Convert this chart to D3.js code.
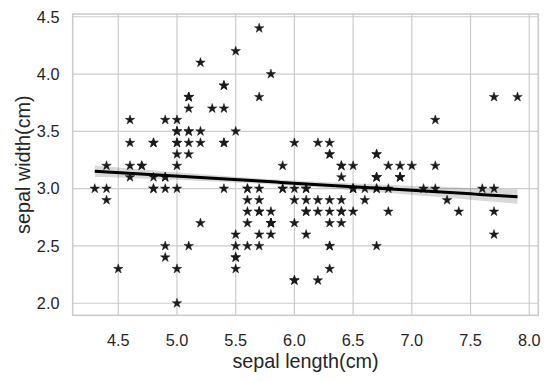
<!DOCTYPE html>
<html><head><meta charset="utf-8">
<script src="https://cdn.jsdelivr.net/npm/d3@7"></script>
<style>body{margin:0;background:#fff}svg{display:block}text{font-family:"Liberation Sans",Arial,sans-serif;fill:#262626}</style>
</head><body><svg id="c" width="551" height="382"></svg>
<script>
const sepalLength = [5.1,4.9,4.7,4.6,5.0,5.4,4.6,5.0,4.4,4.9,5.4,4.8,4.8,4.3,5.8,5.7,5.4,5.1,5.7,5.1,5.4,5.1,4.6,5.1,4.8,5.0,5.0,5.2,5.2,4.7,4.8,5.4,5.2,5.5,4.9,5.0,5.5,4.9,4.4,5.1,5.0,4.5,4.4,5.0,5.1,4.8,5.1,4.6,5.3,5.0,
7.0,6.4,6.9,5.5,6.5,5.7,6.3,4.9,6.6,5.2,5.0,5.9,6.0,6.1,5.6,6.7,5.6,5.8,6.2,5.6,5.9,6.1,6.3,6.1,6.4,6.6,6.8,6.7,6.0,5.7,5.5,5.5,5.8,6.0,5.4,6.0,6.7,6.3,5.6,5.5,5.5,6.1,5.8,5.0,5.6,5.7,5.7,6.2,5.1,5.7,
6.3,5.8,7.1,6.3,6.5,7.6,4.9,7.3,6.7,7.2,6.5,6.4,6.8,5.7,5.8,6.4,6.5,7.7,7.7,6.0,6.9,5.6,7.7,6.3,6.7,7.2,6.2,6.1,6.4,7.2,7.4,7.9,6.4,6.3,6.1,7.7,6.3,6.4,6.0,6.9,6.7,6.9,5.8,6.8,6.7,6.7,6.3,6.5,6.2,5.9];
const sepalWidth = [3.5,3.0,3.2,3.1,3.6,3.9,3.4,3.4,2.9,3.1,3.7,3.4,3.0,3.0,4.0,4.4,3.9,3.5,3.8,3.8,3.4,3.7,3.6,3.3,3.4,3.0,3.4,3.5,3.4,3.2,3.1,3.4,4.1,4.2,3.1,3.2,3.5,3.6,3.0,3.4,3.5,2.3,3.2,3.5,3.8,3.0,3.8,3.2,3.7,3.3,
3.2,3.2,3.1,2.3,2.8,2.8,3.3,2.4,2.9,2.7,2.0,3.0,2.2,2.9,2.9,3.1,3.0,2.7,2.2,2.5,3.2,2.8,2.5,2.8,2.9,3.0,2.8,3.0,2.9,2.6,2.4,2.4,2.7,2.7,3.0,3.4,3.1,2.3,3.0,2.5,2.6,3.0,2.6,2.3,2.7,3.0,2.9,2.9,2.5,2.8,
3.3,2.7,3.0,2.9,3.0,3.0,2.5,2.9,2.5,3.6,3.2,2.7,3.0,2.5,2.8,3.2,3.0,3.8,2.6,2.2,3.2,2.8,2.8,2.7,3.3,3.2,2.8,3.0,2.8,3.0,2.8,3.8,2.8,2.8,2.6,3.0,3.4,3.1,3.0,3.1,3.1,3.1,2.7,3.2,3.3,3.0,2.5,3.0,3.4,3.0];
const xTicks = [4.5,5.0,5.5,6.0,6.5,7.0,7.5,8.0];
const yTicks = [2.0,2.5,3.0,3.5,4.0,4.5];

const svg = d3.select("#c");
const L=72.7,R=538.3,T=14,B=315.3;
const x = d3.scaleLinear().domain([4.112,8.077]).range([L,R]);
const y = d3.scaleLinear().domain([1.895,4.524]).range([B,T]);

// grid
const g = svg.append("g");
g.selectAll(".gx").data(xTicks).join("line").attr("x1",d=>x(d)).attr("x2",d=>x(d)).attr("y1",T).attr("y2",B).attr("stroke","#cccccc").attr("stroke-width",1.2);
g.selectAll(".gy").data(yTicks).join("line").attr("y1",d=>y(d)).attr("y2",d=>y(d)).attr("x1",L).attr("x2",R).attr("stroke","#cccccc").attr("stroke-width",1.2);

// regression
const n = sepalLength.length;
const mx = d3.mean(sepalLength), my = d3.mean(sepalWidth);
let sxx=0,sxy=0; for(let i=0;i<n;i++){sxx+=(sepalLength[i]-mx)**2; sxy+=(sepalLength[i]-mx)*(sepalWidth[i]-my);}
const b1 = sxy/sxx, b0 = my-b1*mx;
let sse=0; for(let i=0;i<n;i++){sse+=(sepalWidth[i]-b0-b1*sepalLength[i])**2;}
const s = Math.sqrt(sse/(n-2)), bandK=0.65;
const [xmin,xmax] = d3.extent(sepalLength);
const grid = d3.range(0,101).map(i=>xmin+(xmax-xmin)*i/100);
const band = grid.map(v=>{const yh=b0+b1*v; const se=s*Math.sqrt(1/n+(v-mx)**2/sxx); return {v,yh,lo:yh-bandK*se,hi:yh+bandK*se};});
svg.append("path").datum(band).attr("d",d3.area().x(d=>x(d.v)).y0(d=>y(d.lo)).y1(d=>y(d.hi))).attr("fill","#000").attr("fill-opacity",0.15);

// stars
const ro=5, ri=ro*0.381966;
let pts=[]; for(let k=0;k<10;k++){const r=k%2?ri:ro; const a=-Math.PI/2+k*Math.PI/5; pts.push([r*Math.cos(a),r*Math.sin(a)]);}
const starPath = "M"+pts.map(p=>p[0].toFixed(2)+","+p[1].toFixed(2)).join("L")+"Z";
svg.append("g").selectAll("path").data(d3.range(n)).join("path")
  .attr("d",starPath).attr("transform",i=>`translate(${x(sepalLength[i])},${y(sepalWidth[i])})`)
  .attr("fill","#1a1a1a").attr("stroke","#1a1a1a").attr("stroke-width",0.5);

svg.append("path").datum(band).attr("d",d3.line().x(d=>x(d.v)).y(d=>y(d.yh))).attr("stroke","#000").attr("stroke-width",3).attr("fill","none");

// spines
svg.append("rect").attr("x",L).attr("y",T).attr("width",R-L).attr("height",B-T).attr("fill","none").attr("stroke","#cccccc").attr("stroke-width",1.6);

// tick labels
svg.append("g").selectAll("text").data(xTicks).join("text").attr("x",d=>x(d)).attr("y",345.5).attr("text-anchor","middle").attr("font-size",16.3).text(d=>d.toFixed(1));
svg.append("g").selectAll("text").data(yTicks).join("text").attr("x",59.5).attr("y",d=>y(d)+5.8).attr("text-anchor","end").attr("font-size",16.3).text(d=>d.toFixed(1));

svg.append("text").attr("x",(L+R)/2).attr("y",367.5).attr("text-anchor","middle").attr("font-size",19.8).text("sepal length(cm)");
svg.append("text").attr("transform",`translate(30,${(T+B)/2}) rotate(-90)`).attr("text-anchor","middle").attr("font-size",19.8).text("sepal width(cm)");
</script></body></html>
